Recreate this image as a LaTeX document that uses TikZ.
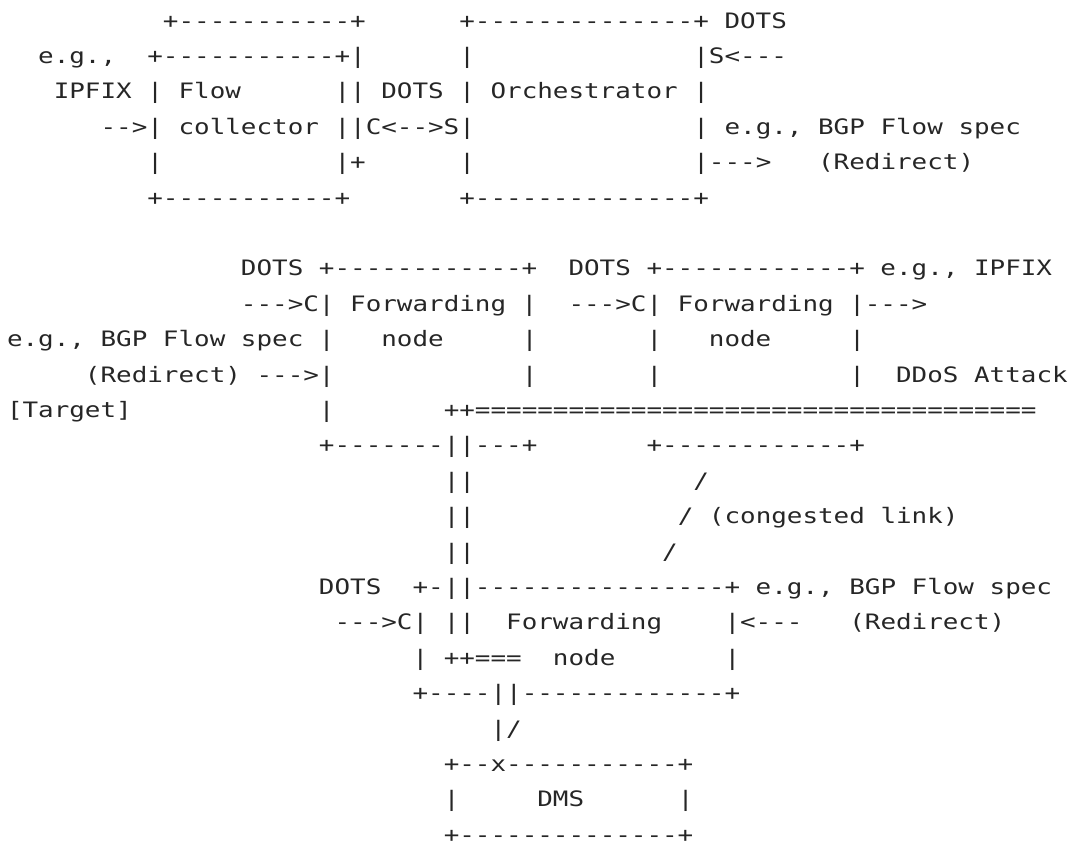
\documentclass[tikz,border=0pt]{standalone}
\usepackage{fontspec}
\usepackage{graphicx}
\setmonofont{DejaVu Sans Mono}
\definecolor{ink}{HTML}{262626}
\newcommand\gap[1]{\hspace*{#1\fontcharwd\font`\x}}
\newcommand\asciifont{\ttfamily\fontsize{25.91pt}{35.5pt}\selectfont\frenchspacing}
\newcommand\vsq[1]{\scalebox{1}[0.82]{#1}}
\tikzset{asc/.style={anchor=base west, inner sep=0pt, outer sep=0pt, text=ink, font=\asciifont}}
\begin{document}
\begin{tikzpicture}[x=1pt,y=-1pt]
\useasboundingbox (0,0) rectangle (1071,844);
\node[asc] (l1) at (7,28) {\vsq{\gap{10}+-----------+\gap{6}+--------------+\gap{1}DOTS}};
\node[asc] (l2) at (7,63.4) {\vsq{\gap{2}e.g.,\gap{2}+-----------+|\gap{6}|\gap{14}|S<---}};
\node[asc] (l3) at (7,98.8) {\vsq{\gap{3}IPFIX\gap{1}|\gap{1}Flow\gap{6}||\gap{1}DOTS\gap{1}|\gap{1}Orchestrator\gap{1}|}};
\node[asc] (l4) at (7,134.2) {\vsq{\gap{6}-->|\gap{1}collector\gap{1}||C<-->S|\gap{14}|\gap{1}e.g.,~BGP~Flow~spec}};
\node[asc] (l5) at (7,169.6) {\vsq{\gap{9}|\gap{11}|+\gap{6}|\gap{14}|--->\gap{3}(Redirect)}};
\node[asc] (l6) at (7,205) {\vsq{\gap{9}+-----------+\gap{7}+--------------+}};
\node[asc] (l8) at (7,275.8) {\vsq{\gap{15}DOTS\gap{1}+------------+\gap{2}DOTS\gap{1}+------------+\gap{1}e.g.,~IPFIX}};
\node[asc] (l9) at (7,311.2) {\vsq{\gap{15}--->C|\gap{1}Forwarding\gap{1}|\gap{2}--->C|\gap{1}Forwarding\gap{1}|--->}};
\node[asc] (l10) at (7,346.6) {\vsq{e.g.,~BGP~Flow~spec\gap{1}|\gap{3}node\gap{5}|\gap{7}|\gap{3}node\gap{5}|}};
\node[asc] (l11) at (7,382) {\vsq{\gap{5}(Redirect)\gap{1}--->|\gap{12}|\gap{7}|\gap{12}|\gap{2}DDoS~Attack}};
\node[asc] (l12) at (7,417.4) {\vsq{[Target]\gap{12}|\gap{7}++====================================}};
\node[asc] (l13) at (7,452.8) {\vsq{\gap{20}+-------||---+\gap{7}+------------+}};
\node[asc] (l14) at (7,488.2) {\vsq{\gap{28}||\gap{14}/}};
\node[asc] (l15) at (7,523.6) {\vsq{\gap{28}||\gap{13}/\gap{1}(congested~link)}};
\node[asc] (l16) at (7,559) {\vsq{\gap{28}||\gap{12}/}};
\node[asc] (l17) at (7,594.4) {\vsq{\gap{20}DOTS\gap{2}+-||----------------+\gap{1}e.g.,~BGP~Flow~spec}};
\node[asc] (l18) at (7,629.8) {\vsq{\gap{21}--->C|\gap{1}||\gap{2}Forwarding\gap{4}|<---\gap{3}(Redirect)}};
\node[asc] (l19) at (7,665.2) {\vsq{\gap{26}|\gap{1}++===\gap{2}node\gap{7}|}};
\node[asc] (l20) at (7,700.6) {\vsq{\gap{26}+----||-------------+}};
\node[asc] (l21) at (7,736) {\vsq{\gap{31}|/}};
\node[asc] (l22) at (7,771.4) {\vsq{\gap{28}+--x-----------+}};
\node[asc] (l23) at (7,806.8) {\vsq{\gap{28}|\gap{5}DMS\gap{6}|}};
\node[asc] (l24) at (7,842.2) {\vsq{\gap{28}+--------------+}};
\end{tikzpicture}
\end{document}
